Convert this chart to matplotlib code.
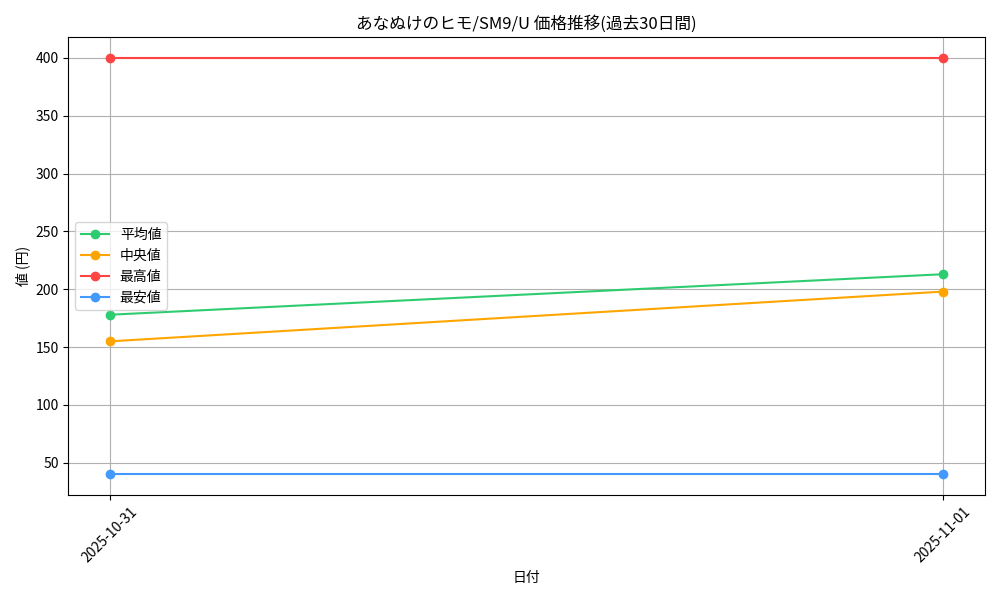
import matplotlib
matplotlib.use("Agg")
import matplotlib.pyplot as plt

plt.rcParams['font.family'] = ['Noto Sans CJK JP', 'DejaVu Sans']

dates = ['2025-10-31', '2025-11-01']
avg_price = [178, 213]
median_price = [155, 198]
max_price = [400, 400]
min_price = [40, 40]

fig, ax = plt.subplots(figsize=(10, 6), dpi=100)

ax.plot(dates, avg_price, marker='o', color='#2ecc71', label='平均値')
ax.plot(dates, median_price, marker='o', color='#ffa500', label='中央値')
ax.plot(dates, max_price, marker='o', color='#ff4444', label='最高値')
ax.plot(dates, min_price, marker='o', color='#4499ff', label='最安値')

ax.set_title('あなぬけのヒモ/SM9/U 価格推移(過去30日間)')
ax.set_xlabel('日付')
ax.set_ylabel('値 (円)')
ax.grid(True)
ax.legend(loc='center left')
plt.xticks(rotation=45)

plt.tight_layout()
plt.savefig('out.png')
